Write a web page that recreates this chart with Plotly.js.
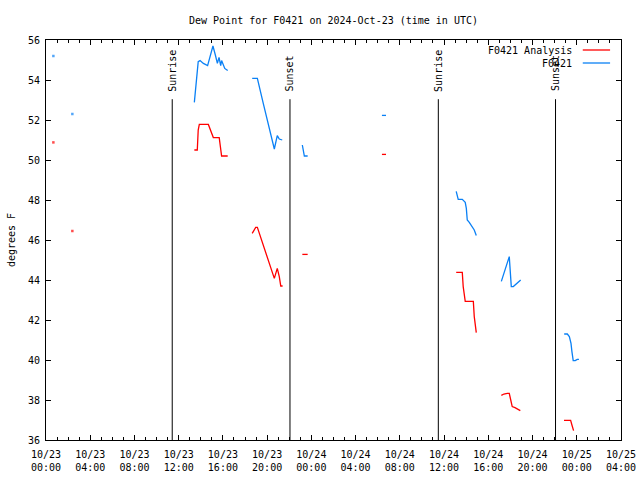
<!DOCTYPE html>
<html>
<head>
<meta charset="utf-8">
<script src="https://cdn.plot.ly/plotly-3.0.1.min.js"></script>
<style>html,body{margin:0;padding:0;background:#fff;}#chart{width:640px;height:480px;}</style>
</head>
<body>
<div id="chart"></div>
<script>
// ---- Data ----
const analysisName = 'F0421 Analysis';
const stationName = 'F0421';

const analysisTimes = [
  '2024-10-23 00:40', null, '2024-10-23 02:23', null,
  '2024-10-23 13:25', '2024-10-23 13:41', '2024-10-23 13:46', '2024-10-23 13:52', '2024-10-23 14:41',
  '2024-10-23 14:54', '2024-10-23 15:08', '2024-10-23 15:40', '2024-10-23 15:48', '2024-10-23 15:53', '2024-10-23 16:26', null,
  '2024-10-23 18:39', '2024-10-23 18:58', '2024-10-23 19:07', '2024-10-23 20:39', '2024-10-23 20:55',
  '2024-10-23 21:06', '2024-10-23 21:14', '2024-10-23 21:24', null,
  '2024-10-23 23:11', '2024-10-23 23:40', null,
  '2024-10-24 06:23', '2024-10-24 06:45', null,
  '2024-10-24 13:06', '2024-10-24 13:39', '2024-10-24 13:44', '2024-10-24 13:55', '2024-10-24 14:39',
  '2024-10-24 14:44', '2024-10-24 14:55', null,
  '2024-10-24 17:11', '2024-10-24 17:25', '2024-10-24 17:43', '2024-10-24 17:54', '2024-10-24 18:02',
  '2024-10-24 18:10', '2024-10-24 18:25', '2024-10-24 18:39', '2024-10-24 18:54', null,
  '2024-10-24 22:51', '2024-10-24 23:27', '2024-10-24 23:34', '2024-10-24 23:43'
];
const analysisValues = [
  50.88, null, 46.45, null,
  50.5, 50.5, 51.5, 51.78, 51.78,
  51.42, 51.12, 51.12, 50.67, 50.2, 50.2, null,
  46.33, 46.63, 46.63, 44.08, 44.58,
  44.17, 43.7, 43.7, null,
  45.28, 45.28, null,
  50.28, 50.28, null,
  44.38, 44.38, 43.67, 42.93, 42.93,
  42.17, 41.37, null,
  38.23, 38.3, 38.33, 38.33, 38.0,
  37.67, 37.62, 37.55, 37.47, null,
  36.98, 36.98, 36.75, 36.47
];

const stationTimes = [
  '2024-10-23 00:40', null, '2024-10-23 02:23', null,
  '2024-10-23 13:25', '2024-10-23 13:38', '2024-10-23 13:46', '2024-10-23 13:56', '2024-10-23 14:14',
  '2024-10-23 14:37', '2024-10-23 14:50', '2024-10-23 15:06', '2024-10-23 15:19', '2024-10-23 15:30',
  '2024-10-23 15:39', '2024-10-23 15:48', '2024-10-23 15:53', '2024-10-23 16:10', '2024-10-23 16:26', null,
  '2024-10-23 18:39', '2024-10-23 19:07', '2024-10-23 19:39', '2024-10-23 20:39', '2024-10-23 20:55',
  '2024-10-23 21:06', '2024-10-23 21:22', null,
  '2024-10-23 23:11', '2024-10-23 23:22', '2024-10-23 23:40', null,
  '2024-10-24 06:23', '2024-10-24 06:45', null,
  '2024-10-24 13:06', '2024-10-24 13:17', '2024-10-24 13:39', '2024-10-24 13:55', '2024-10-24 14:01',
  '2024-10-24 14:06', '2024-10-24 14:17', '2024-10-24 14:33', '2024-10-24 14:44', '2024-10-24 14:55', null,
  '2024-10-24 17:11', '2024-10-24 17:54', '2024-10-24 18:05', '2024-10-24 18:16', '2024-10-24 18:56', null,
  '2024-10-24 22:52', '2024-10-24 23:09', '2024-10-24 23:20', '2024-10-24 23:29', '2024-10-24 23:34',
  '2024-10-24 23:41', '2024-10-24 23:52', '2024-10-25 00:03', '2024-10-25 00:12'
];
const stationValues = [
  55.2, null, 52.3, null,
  52.88, 54.08, 54.92, 54.97, 54.83,
  54.72, 55.17, 55.7, 55.25, 54.83,
  55.13, 54.72, 54.97, 54.58, 54.47, null,
  54.08, 54.08, 52.83, 50.55, 51.22,
  51.05, 51.0, null,
  50.75, 50.2, 50.2, null,
  52.23, 52.23, null,
  48.43, 48.03, 48.03, 47.88, 47.58,
  47.0, 46.88, 46.67, 46.5, 46.23, null,
  43.93, 45.17, 43.67, 43.67, 44.0, null,
  41.3, 41.3, 41.17, 40.83, 40.42,
  39.97, 39.97, 40.03, 40.03
];

const eventTimes = ['2024-10-23 11:25', '2024-10-23 22:04', '2024-10-24 11:29', '2024-10-24 22:05'];
const eventLabels = ['Sunrise', 'Sunset', 'Sunrise', 'Sunset'];

const yTicks = [36, 38, 40, 42, 44, 46, 48, 50, 52, 54, 56];
const xRange = ['2024-10-23 00:00', '2024-10-25 04:00:20'];
const titleText = 'Dew Point for F0421 on 2024-Oct-23 (time in UTC)';
const yTitle = 'degrees F';

// ---- Styling ----
const FONT = 'DejaVu Sans Mono, monospace';
const RED = '#ff0000';
const BLUE = '#0a80f5';

function isolatedSizes(vals) {
  return vals.map((v, i) => {
    if (v === null) return 0;
    const prev = i > 0 ? vals[i - 1] : null;
    const next = i < vals.length - 1 ? vals[i + 1] : null;
    return (prev === null && next === null) ? 2.5 : 0;
  });
}

const traces = [
  {
    x: analysisTimes, y: analysisValues, name: analysisName, type: 'scatter', mode: 'lines+markers',
    line: {color: RED, width: 1.3}, marker: {color: RED, size: isolatedSizes(analysisValues), symbol: 'square', line: {width: 0}},
    connectgaps: false, showlegend: false, hoverinfo: 'skip', cliponaxis: false
  },
  {
    x: stationTimes, y: stationValues, name: stationName, type: 'scatter', mode: 'lines+markers',
    line: {color: BLUE, width: 1.3}, marker: {color: BLUE, size: isolatedSizes(stationValues), symbol: 'square', line: {width: 0}},
    connectgaps: false, showlegend: false, hoverinfo: 'skip', cliponaxis: false
  }
];

const shapes = [];
const annotations = [];
eventTimes.forEach((t, i) => {
  shapes.push({type: 'line', xref: 'x', yref: 'paper', x0: t, x1: t, y0: 0, y1: 0.852,
    line: {color: '#000', width: 1}});
  annotations.push({xref: 'x', yref: 'paper', x: t, y: 0.866, text: eventLabels[i], textangle: -90,
    showarrow: false, xanchor: 'center', yanchor: 'bottom', font: {family: FONT, size: 10, color: '#000'}});
});

// manual legend (gnuplot style: text right-aligned, sample to the right)
const legendItems = [[analysisName, RED, 0.975], [stationName, BLUE, 0.9425]];
legendItems.forEach(([name, color, y]) => {
  annotations.push({xref: 'paper', yref: 'paper', x: 0.919, y: y, text: name, showarrow: false,
    xanchor: 'right', yanchor: 'middle', font: {family: FONT, size: 10, color: '#000'}});
  shapes.push({type: 'line', xref: 'paper', yref: 'paper', x0: 0.9335, x1: 0.981, y0: y, y1: y,
    line: {color: color, width: 1.3}});
});

const layout = {
  width: 640, height: 480,
  margin: {l: 46, r: 19, t: 40, b: 40, pad: 0},
  paper_bgcolor: '#fff', plot_bgcolor: '#fff',
  font: {family: FONT, size: 10, color: '#000'},
  title: {text: titleText, xref: 'paper', x: 0.5, xanchor: 'center', y: 0.958, yanchor: 'middle', font: {family: FONT, size: 10, color: '#000'}},
  showlegend: false,
  xaxis: {
    type: 'date', range: xRange, tick0: '2024-10-23 00:00', dtick: 4 * 3600000,
    tickformat: '%m/%d<br>%H:%M', ticks: 'inside', ticklen: 5, tickcolor: '#000', ticklabelstandoff: 5,
    ticklabeloverflow: 'allow',
    minor: {dtick: 3600000, ticks: 'inside', ticklen: 3, tickcolor: '#000', showgrid: false},
    showline: true, linecolor: '#000', linewidth: 1, mirror: 'ticks', showgrid: false, zeroline: false,
    tickfont: {family: FONT, size: 10, color: '#000'}, fixedrange: true
  },
  yaxis: {
    range: [36, 56], tickvals: yTicks, ticks: 'inside', ticklen: 5, tickcolor: '#000', ticklabelstandoff: 3,
    showline: true, linecolor: '#000', linewidth: 1, mirror: 'ticks', showgrid: false, zeroline: false,
    tickfont: {family: FONT, size: 10, color: '#000'},
    title: {text: yTitle, font: {family: FONT, size: 10, color: '#000'}, standoff: 10}, fixedrange: true
  },
  shapes: shapes,
  annotations: annotations
};

Plotly.newPlot('chart', traces, layout, {staticPlot: true, displayModeBar: false});
</script>
</body>
</html>
